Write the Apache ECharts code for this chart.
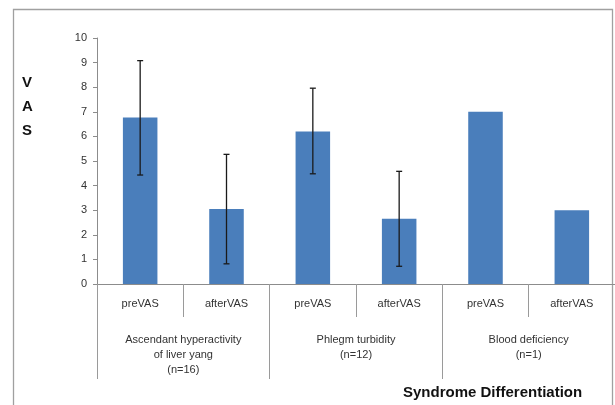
<!DOCTYPE html>
<html>
<head>
<meta charset="utf-8">
<script src="https://cdn.jsdelivr.net/npm/echarts@6/dist/echarts.min.js"></script>
<style>html,body{margin:0;padding:0;background:#fff}#c{width:615px;height:405px}</style>
</head>
<body>
<div id="c"></div>
<script>
const categories = ['preVAS', 'afterVAS', 'preVAS', 'afterVAS', 'preVAS', 'afterVAS'];
const groups = ['Ascendant hyperactivity\nof liver yang\n(n=16)', 'Phlegm turbidity\n(n=12)', 'Blood deficiency\n(n=1)'];
const meanVAS = [6.77, 3.05, 6.2, 2.65, 7.0, 3.0];
const errLow = [4.43, 0.82, 4.48, 0.72, null, null];
const errHigh = [9.08, 5.27, 7.96, 4.58, null, null];
const yTicks = [0, 10, 1];

const chart = echarts.init(document.getElementById('c'), null, {renderer: 'canvas'});
const font = 'Liberation Sans';
const errData = categories.map((c, i) => [i, errLow[i], errHigh[i]]).filter(d => d[1] != null);

chart.setOption({
  animation: false,
  backgroundColor: '#fff',
  title: [
    {text: 'V\nA\nS', left: 17, top: 66, textStyle: {fontFamily: font, fontWeight: 'bold', fontSize: 15, lineHeight: 24, color: '#111'}},
    {text: 'Syndrome Differentiation', left: 398, top: 380, textStyle: {fontFamily: font, fontWeight: 'bold', fontSize: 15, color: '#111'}}
  ],
  graphic: [{type: 'rect', shape: {x: 13.5, y: 9.5, width: 599, height: 420}, style: {fill: 'none', stroke: '#a0a0a0', lineWidth: 1.3}, z: -1}],
  grid: {left: 97, top: 38, width: 519, bottom: 121, containLabel: false},
  xAxis: [
    {type: 'category', data: categories, position: 'bottom',
     axisLine: {show: true, lineStyle: {color: '#8c8c8c', width: 1}},
     axisTick: {show: true, length: 33, lineStyle: {color: '#9a9a9a'}},
     axisLabel: {margin: 14, fontFamily: font, fontSize: 11, color: '#333'}},
    {type: 'category', data: groups, position: 'bottom', offset: 0,
     axisLine: {show: false},
     axisTick: {show: true, length: 95, lineStyle: {color: '#9a9a9a'}},
     axisLabel: {margin: 48, fontFamily: font, fontSize: 11, lineHeight: 15, color: '#333'}}
  ],
  yAxis: {type: 'value', min: yTicks[0], max: yTicks[1], interval: yTicks[2],
    axisLine: {show: true, lineStyle: {color: '#8c8c8c'}},
    axisTick: {show: true, length: 4, lineStyle: {color: '#8c8c8c'}},
    splitLine: {show: false},
    axisLabel: {margin: 10, fontFamily: font, fontSize: 11, color: '#333'}},
  series: [
    {type: 'bar', data: meanVAS, barWidth: '40%', itemStyle: {color: '#4a7ebb'}, xAxisIndex: 0},
    {type: 'custom', xAxisIndex: 0, data: errData, z: 5,
     renderItem: function (params, api) {
       const x = api.value(0);
       const lo = api.coord([x, api.value(1)]);
       const hi = api.coord([x, api.value(2)]);
       const hw = 3;
       const st = {stroke: '#1a1a1a', lineWidth: 1.3};
       return {type: 'group', children: [
         {type: 'line', shape: {x1: hi[0], y1: hi[1], x2: lo[0], y2: lo[1]}, style: st},
         {type: 'line', shape: {x1: hi[0] - hw, y1: hi[1], x2: hi[0] + hw, y2: hi[1]}, style: st},
         {type: 'line', shape: {x1: lo[0] - hw, y1: lo[1], x2: lo[0] + hw, y2: lo[1]}, style: st}
       ]};
     }}
  ]
});
</script>
</body>
</html>
